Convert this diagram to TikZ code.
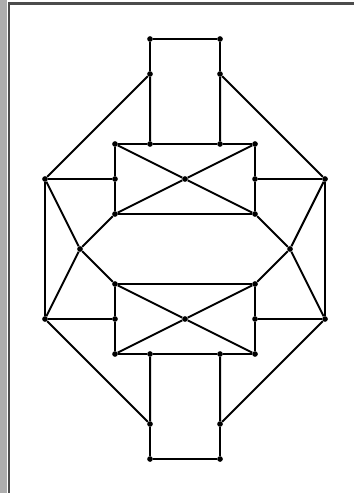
\documentclass[tikz,border=0pt]{standalone}
\tikzset{
  vtx/.style={circle, fill=black, inner sep=0pt, minimum size=4.6pt},
  edge/.style={line width=1.6pt},
}
\begin{document}
\begin{tikzpicture}[x=1cm, y=1cm]
  \useasboundingbox (-5.286,-6.971) rectangle (4.829,7.114);
  % frame of the page
  \fill[black!32] (-5.286,-6.971) rectangle (-5.086,7.114);
  \draw[black!70, line width=2.2pt] (-5.03,-6.971) -- (-5.03,7.02) -- (4.829,7.02);
  \node[vtx] (m1) at (-3, 0) {};
  \node[vtx] (m2) at (3, 0) {};
  \foreach \s/\h in {1/t, -1/b}{
    \node[vtx] (a1\h) at (-1, 6*\s) {};
    \node[vtx] (a2\h) at (1, 6*\s) {};
    \node[vtx] (b1\h) at (-1, 5*\s) {};
    \node[vtx] (b2\h) at (1, 5*\s) {};
    \node[vtx] (c1\h) at (-2, 3*\s) {};
    \node[vtx] (c2\h) at (-1, 3*\s) {};
    \node[vtx] (c3\h) at (1, 3*\s) {};
    \node[vtx] (c4\h) at (2, 3*\s) {};
    \node[vtx] (d0\h) at (-4, 2*\s) {};
    \node[vtx] (d1\h) at (-2, 2*\s) {};
    \node[vtx] (d2\h) at (0, 2*\s) {};
    \node[vtx] (d3\h) at (2, 2*\s) {};
    \node[vtx] (d4\h) at (4, 2*\s) {};
    \node[vtx] (e1\h) at (-2, 1*\s) {};
    \node[vtx] (e2\h) at (2, 1*\s) {};
    \draw[edge] (b1\h) -- (a1\h) -- (a2\h) -- (b2\h);
    \draw[edge] (c2\h) -- (b1\h) -- (d0\h) -- (d1\h);
    \draw[edge] (c3\h) -- (b2\h) -- (d4\h) -- (d3\h);
    \draw[edge] (c1\h) -- (c2\h) -- (c3\h) -- (c4\h);
    \draw[edge] (c1\h) -- (d1\h) -- (e1\h) -- (e2\h) -- (d3\h) -- (c4\h);
    \draw[edge] (c1\h) -- (d2\h) -- (e2\h);
    \draw[edge] (c4\h) -- (d2\h) -- (e1\h);
    \draw[edge] (d0\h) -- (m1) -- (e1\h);
    \draw[edge] (d4\h) -- (m2) -- (e2\h);
  }
  \draw[edge] (d0t) -- (d0b);
  \draw[edge] (d4t) -- (d4b);
\end{tikzpicture}
\end{document}
